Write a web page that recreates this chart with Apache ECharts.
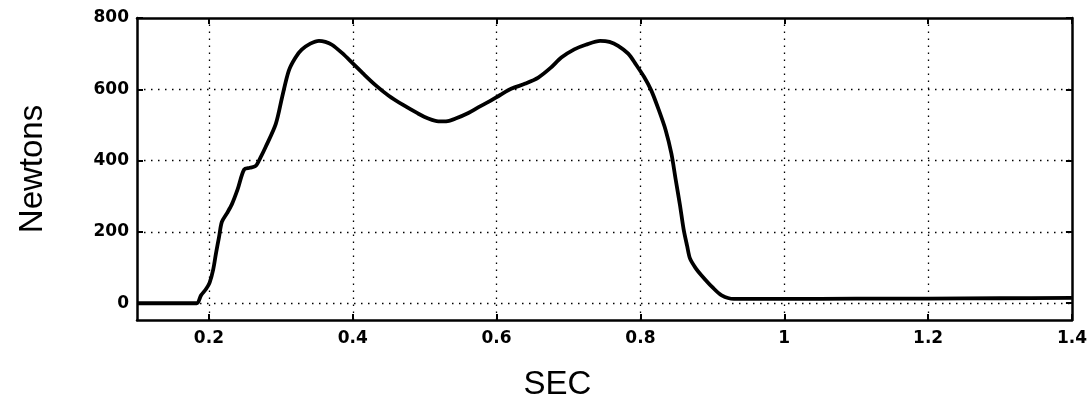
<!DOCTYPE html>
<html>
<head>
<meta charset="utf-8">
<script src="https://cdn.jsdelivr.net/npm/echarts@6/dist/echarts.min.js"></script>
<style>html,body{margin:0;padding:0;background:#fff;}#c{width:1090px;height:406px;}</style>
</head>
<body>
<div id="c"></div>
<script>
const secs = [0.1, 0.15, 0.183, 0.189, 0.196, 0.201, 0.206, 0.21, 0.214, 0.218, 0.225, 0.232, 0.24, 0.249, 0.257, 0.265, 0.272, 0.279, 0.293, 0.302, 0.311, 0.32, 0.329, 0.341, 0.353, 0.362, 0.371, 0.385, 0.399, 0.415, 0.432, 0.45, 0.47, 0.49, 0.505, 0.519, 0.532, 0.543, 0.56, 0.575, 0.59, 0.605, 0.621, 0.64, 0.658, 0.675, 0.69, 0.708, 0.724, 0.744, 0.757, 0.769, 0.783, 0.794, 0.805, 0.815, 0.825, 0.835, 0.843, 0.849, 0.855, 0.86, 0.865, 0.869, 0.877, 0.885, 0.9, 0.913, 0.93, 1.0, 1.1, 1.2, 1.3, 1.4];
const newtons = [0, 0, 0, 22, 40, 58, 95, 142, 185, 228, 252, 278, 320, 375, 380, 385, 410, 439, 503, 580, 652, 688, 711, 728, 736, 733, 725, 702, 675, 643, 611, 582, 556, 533, 518, 510, 511, 518, 533, 550, 566, 584, 602, 616, 633, 660, 689, 712, 725, 736, 733, 722, 700, 669, 635, 597, 545, 486, 420, 347, 275, 208, 160, 125, 98, 78, 45, 22, 12, 12, 13, 13, 14, 15];
const xTicks = [0.2, 0.4, 0.6, 0.8, 1, 1.2, 1.4];
const yTicks = [0, 200, 400, 600, 800];
const xGrid = [0.2, 0.4, 0.6, 0.8, 1, 1.2];
const yGrid = [0, 200, 400, 600];

const chart = echarts.init(document.getElementById('c'), null, {renderer: 'canvas'});
const dotted = {color: '#000', width: 1.3, type: [1.5, 5.5]};
const axisLine = {show: true, onZero: false, lineStyle: {color: '#000', width: 2.5}};
const tickFont = {fontFamily: 'DejaVu Sans', fontWeight: 'bold', fontSize: 17, color: '#000'};

const data = secs.map((s, i) => [s, newtons[i]]);
const gridMarks = [];
xGrid.forEach(v => gridMarks.push({xAxis: v}));
yGrid.forEach(v => gridMarks.push({yAxis: v}));

chart.setOption({
  animation: false,
  grid: {left: 137, right: 17, top: 18, bottom: 81, containLabel: false},
  xAxis: [{
    type: 'value', min: 0.1, max: 1.4, position: 'bottom',
    axisLine: axisLine,
    axisTick: {show: true, inside: true, length: 6, lineStyle: {color: '#000', width: 2}, customValues: xTicks},
    axisLabel: {show: true, margin: 10, customValues: xTicks, formatter: v => String(+v.toFixed(1)), ...tickFont},
    splitLine: {show: false},
    name: 'SEC', nameLocation: 'middle', nameGap: 48,
    nameTextStyle: {fontFamily: 'Liberation Sans', fontSize: 33, color: '#000', padding: [0, 94, 0, 0]}
  }, {
    type: 'value', min: 0.1, max: 1.4, position: 'top',
    axisLine: axisLine,
    axisTick: {show: true, inside: true, length: 6, lineStyle: {color: '#000', width: 2}, customValues: xTicks},
    axisLabel: {show: false}, splitLine: {show: false}
  }],
  yAxis: [{
    type: 'value', min: -47, max: 800, position: 'left',
    axisLine: axisLine,
    axisTick: {show: true, inside: true, length: 6, lineStyle: {color: '#000', width: 2}, customValues: yTicks},
    axisLabel: {show: true, margin: 8, customValues: yTicks, ...tickFont},
    splitLine: {show: false},
    name: 'Newtons', nameLocation: 'middle', nameGap: 88, nameRotate: 90,
    nameTextStyle: {fontFamily: 'Liberation Sans', fontSize: 33, color: '#000'}
  }, {
    type: 'value', min: -47, max: 800, position: 'right',
    axisLine: axisLine,
    axisTick: {show: true, inside: true, length: 6, lineStyle: {color: '#000', width: 2}, customValues: yTicks},
    axisLabel: {show: false}, splitLine: {show: false}
  }],
  series: [{
    type: 'line', xAxisIndex: 0, yAxisIndex: 0,
    data: data, showSymbol: false, smooth: 0.3,
    lineStyle: {color: '#000', width: 3.8},
    z: 5,
    markLine: {
      silent: true, symbol: ['none', 'none'], label: {show: false},
      lineStyle: dotted, data: gridMarks, z: 1
    }
  }]
});
</script>
</body>
</html>
